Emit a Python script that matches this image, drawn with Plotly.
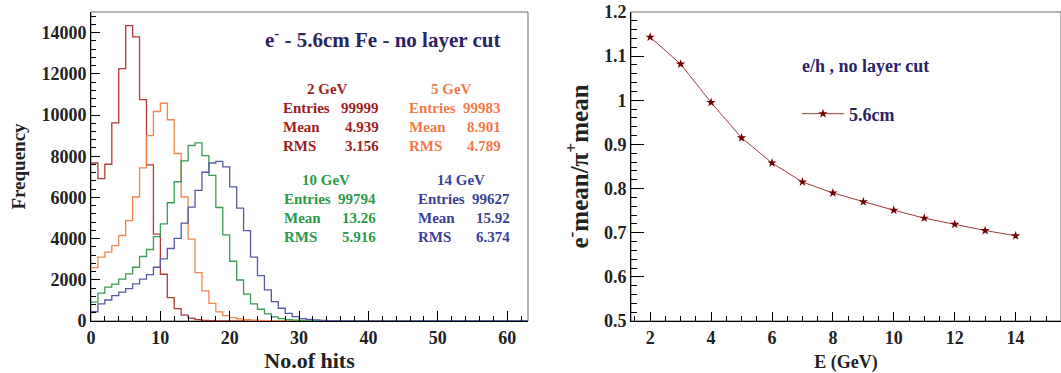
import plotly.graph_objects as go
import numpy as np

# ---------------- data ----------------
bin_edges = list(range(0, 64))  # 1-unit bins, 0..63

counts_2gev = [7670, 6910, 7610, 9620, 12250, 14340, 13790, 10750, 7580, 4220,
               2270, 1130, 600, 290, 140, 70, 35, 20, 10, 6, 4, 2, 1]
counts_5gev = [2590, 3100, 3340, 3660, 4150, 4870, 6020, 7430, 9000, 10170,
               10570, 9770, 8130, 6020, 3970, 2350, 1460, 860, 440, 260,
               160, 100, 60, 40, 30, 20, 10, 6, 4, 2]
counts_10gev = [920, 1350, 1640, 1790, 2030, 2290, 2610, 3130, 3470, 4100,
                4710, 5740, 6760, 7770, 8520, 8650, 8030, 7070, 5510, 4180,
                2900, 1990, 1300, 830, 570, 350, 200, 120, 70, 45,
                30, 20, 12, 8, 5, 3, 2, 1]
counts_14gev = [450, 830, 1020, 1230, 1400, 1570, 1800, 2030, 2250, 2610,
                3020, 3520, 4010, 4750, 5530, 6340, 7220, 7670, 7750, 7480,
                6510, 5480, 4390, 3100, 2200, 1510, 940, 620, 370, 210,
                120, 75, 50, 32, 20, 14, 9, 6, 4, 3, 2, 1, 1]

hist_labels = ["2 GeV", "5 GeV", "10 GeV", "14 GeV"]
entries = ["99999", "99983", "99794", "99627"]
means = ["4.939", "8.901", "13.26", "15.92"]
rms = ["3.156", "4.789", "5.916", "6.374"]

energy = [2, 3, 4, 5, 6, 7, 8, 9, 10, 11, 12, 13, 14]
ratio = [1.143, 1.082, 0.995, 0.915, 0.858, 0.815, 0.790, 0.770, 0.751,
         0.733, 0.719, 0.705, 0.693]

# ---------------- style ----------------
W, H = 1061, 373
FONT = "Liberation Serif"
NAVY = "#2b2462"
line_cols = ["#b23b36", "#f2844f", "#3a9c52", "#5558a6"]
text_cols = ["#9e1d1d", "#f27a45", "#2a9a4a", "#3b3f96"]


def px(x):
    return x / W


def py(y):
    return (H - y) / H


fig = go.Figure()


def pad(c):
    c = list(c) + [0] * (63 - len(c))
    return c + [c[-1]]


for cnt, col, lab in zip([counts_2gev, counts_5gev, counts_10gev, counts_14gev], line_cols, hist_labels):
    fig.add_trace(go.Scatter(x=bin_edges, y=pad(cnt), mode="lines", line_shape="hv",
                             line=dict(color=col, width=1.3), showlegend=False,
                             xaxis="x", yaxis="y", name=lab, hoverinfo="skip"))

fig.add_trace(go.Scatter(x=energy, y=ratio, mode="lines+markers", name="5.6cm",
                         line=dict(color="#a03a3a", width=1),
                         marker=dict(symbol="star", size=7, color="#6e0000"),
                         xaxis="x2", yaxis="y2", showlegend=True))

ydom = [py(321), py(12)]
tickf = dict(family=FONT, size=18, color="#222", weight="bold")

common = dict(showgrid=False, zeroline=False, showline=True, linecolor="black", linewidth=1,
              ticks="inside", tickcolor="black", tickfont=tickf, automargin=False)

fig.update_layout(
    width=W, height=H,
    margin=dict(l=0, r=0, t=0, b=0),
    paper_bgcolor="white", plot_bgcolor="white",
    font=dict(family=FONT, weight="bold"),
    xaxis=dict(domain=[px(91), px(528)], range=[0, 63], ticklen=10, tick0=0, dtick=10,
               minor=dict(ticks="inside", ticklen=5, dtick=2, tickcolor="black"),
               anchor="y",
               title=dict(text="No.of hits", font=dict(family=FONT, size=22, color="#222", weight="bold"),
                          standoff=8), **common),
    yaxis=dict(domain=ydom, range=[0, 15000], ticklen=9, tick0=0, dtick=2000, tickformat="d",
               minor=dict(ticks="inside", ticklen=5, dtick=400, tickcolor="black"),
               anchor="x",
               title=dict(text="Frequency", font=dict(family=FONT, size=19, color="#222", weight="bold"),
                          standoff=10), **common),
    xaxis2=dict(domain=[px(631), 1.0], range=[1.37, 15.49], ticklen=9, tick0=0, dtick=2,
                minor=dict(ticks="inside", ticklen=5, dtick=0.5, tickcolor="black"),
                anchor="y2",
                title=dict(text="E (GeV)", font=dict(family=FONT, size=18, color="#222", weight="bold"),
                           standoff=10), **common),
    yaxis2=dict(domain=ydom, range=[0.5, 1.2], ticklen=13, tick0=0, dtick=0.1,
                minor=dict(ticks="inside", ticklen=6, dtick=0.02, tickcolor="black"),
                anchor="x2",
                title=dict(text="e<sup>-</sup>mean/π<sup>+</sup>mean",
                           font=dict(family=FONT, size=25, color="#222", weight="bold"),
                           standoff=8), **common),
    legend=dict(x=px(797), y=py(114), yanchor="middle", xanchor="left",
                bgcolor="rgba(0,0,0,0)", borderwidth=0, itemwidth=42,
                font=dict(family=FONT, size=18, color=NAVY, weight="bold")),
    showlegend=True,
)

# frames (gray top/right)
for xr, yr in [("x domain", "y domain"), ("x2 domain", "y2 domain")]:
    fig.add_shape(type="rect", xref=xr, yref=yr, x0=0, x1=1, y0=0, y1=1,
                  line=dict(color="#666", width=1), layer="below")

anns = []
anns.append(dict(x=px(382), y=py(39), text="e<sup>-</sup> - 5.6cm Fe - no layer cut",
                 font=dict(family=FONT, size=21, color=NAVY, weight="bold")))
anns.append(dict(x=px(865), y=py(66), text="e/h , no layer cut",
                 font=dict(family=FONT, size=18, color=NAVY, weight="bold")))

# stats boxes: (heading center x, heading y, label left x, value right x)
boxes = [(327, 89, 281, 381), (451, 89, 407, 503), (326, 180, 282, 378), (461, 180, 416, 512)]
for i, (hx, hy, lx, vx) in enumerate(boxes):
    c = text_cols[i]
    f = dict(family=FONT, size=15, color=c, weight="bold")
    anns.append(dict(x=px(hx), y=py(hy), text=hist_labels[i], font=f))
    for j, (lab, val) in enumerate(zip(["Entries", "Mean", "RMS"], [entries[i], means[i], rms[i]])):
        yy = hy + 19 + 19 * j
        anns.append(dict(x=px(lx), y=py(yy), text=lab, font=f, xanchor="left"))
        anns.append(dict(x=px(vx), y=py(yy), text=val, font=f, xanchor="right"))

for a in anns:
    a.setdefault("xanchor", "center")
    a.update(xref="paper", yref="paper", showarrow=False, yanchor="middle")
fig.update_layout(annotations=anns)

fig.write_html("out.html")
